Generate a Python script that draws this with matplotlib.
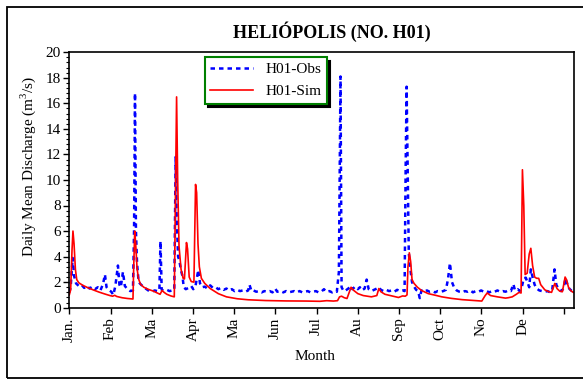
import numpy as np
import matplotlib
matplotlib.use('Agg')
import matplotlib.pyplot as plt
from matplotlib.patches import Rectangle
from matplotlib.ticker import AutoMinorLocator

plt.rcParams['font.family'] = 'Liberation Serif'
plt.rcParams['mathtext.fontset'] = 'custom'
plt.rcParams['mathtext.rm'] = 'Liberation Serif'

month_labels = ['Jan.', 'Feb', 'Ma', 'Apr', 'Ma', 'Jun', 'Jul', 'Au', 'Sep', 'Oct', 'No', 'De', '']

# simulated daily discharge (day of year, m3/s)
sim_day = [0, 1, 2, 2.7, 3.5, 4.5, 5.5, 7, 10, 14, 18, 22, 26, 30, 32, 33.5, 35, 39, 43, 47,
           47.5, 48.3, 49, 50, 51, 52.5, 55, 58, 62, 65, 67, 68.5, 70, 72, 75, 77.5,
           78.2, 79.2, 80, 81, 82.5, 84, 85, 86.5, 87.3, 88.5, 90, 92, 93.2, 94, 95, 96,
           97.5, 100, 104, 110, 116, 124, 132, 145, 160, 175, 185, 190, 195, 198, 199.5,
           201, 203, 205, 208, 210, 213, 217, 220, 223, 225, 227, 228.5, 230, 233, 237,
           240, 243, 246, 248, 249.3, 250, 251, 252, 253, 254.5, 257, 260, 265, 270, 275,
           282, 290, 300, 304.5, 307, 308.5, 311, 316, 322, 324, 327, 330, 332, 333.5,
           334.5, 335.5, 336.5, 338, 339.5, 340.7, 342, 343.5, 345, 346.5, 348, 351, 354,
           356, 358.4, 360, 362, 364, 366, 367, 368.5, 370, 372, 373]
sim_val = [1.0, 1.4, 4.5, 6.0, 5.0, 3.0, 2.2, 1.95, 1.75, 1.55, 1.38, 1.22, 1.08, 0.95, 0.9, 0.97, 0.88, 0.78, 0.72, 0.68,
           3.0, 6.0, 5.0, 3.1, 2.3, 1.85, 1.6, 1.45, 1.3, 1.15, 1.05, 1.35, 1.2, 1.05, 0.92, 0.85,
           7.0, 16.5, 10.0, 4.8, 3.0, 2.3, 2.25, 5.1, 4.6, 2.4, 2.05, 2.0, 9.65, 9.0, 5.0, 3.2,
           2.3, 1.9, 1.5, 1.1, 0.85, 0.7, 0.62, 0.56, 0.53, 0.52, 0.5, 0.55, 0.52, 0.55, 0.85,
           0.9, 0.78, 0.72, 1.6, 1.35, 1.1, 0.95, 0.9, 0.85, 0.9, 0.95, 1.5, 1.25, 1.05, 0.95,
           0.88, 0.8, 0.92, 0.9, 1.0, 3.2, 4.3, 3.6, 2.2, 1.9, 1.6, 1.35, 1.1, 0.98, 0.85,
           0.73, 0.63, 0.55, 0.52, 0.95, 1.15, 0.95, 0.85, 0.75, 0.78, 0.85, 1.05, 1.2, 1.15,
           10.8, 8.0, 2.6, 2.7, 4.2, 4.65, 3.3, 2.4, 2.3, 2.3, 1.8, 1.4, 1.25,
           1.2, 1.9, 1.5, 1.3, 1.25, 2.4, 2.2, 1.6, 1.35, 1.2, 1.2]

# observed daily discharge (day of year, m3/s)
obs_day = [0, 1, 2.5, 3.5, 5, 7, 9, 11, 13, 15, 17, 19, 21, 23, 25, 26.3, 27.5, 29, 31, 32.5,
           34, 35.9, 37, 38, 39.6, 41, 43, 45, 47, 47.8, 48.5, 49.2, 50, 51.2, 53, 55, 57,
           59, 61, 63, 65, 66.5, 67.3, 68.2, 70, 72, 74, 76, 77.5, 78.5, 79.3, 80.3, 81.2,
           82.5, 83.5, 84.5, 86, 88, 90, 91.5, 93, 94, 95.2, 96.5, 98, 100, 102, 104, 106,
           108, 110, 112, 114, 116, 118, 120, 122, 124, 126, 128, 130, 132, 133, 134.5, 136,
           138, 140, 142, 144, 146, 148, 150, 152, 153.5, 156, 158, 160, 162, 164, 166, 168,
           170, 172, 174, 176, 178, 180, 182, 184, 186, 188, 189.5, 192, 194, 196, 197.5,
           199, 200.2, 201, 202.5, 204, 206, 207.5, 209, 211, 213, 214.5, 216, 218, 219.5,
           221, 223, 225, 227, 228.5, 230, 232, 234, 236, 238, 240, 242, 244, 246, 247.5,
           248.3, 249, 249.8, 250.6, 251.8, 253, 254.5, 256, 257.5, 258.7, 260, 262, 264,
           266, 268, 270, 272, 274, 276, 278, 279.5, 281, 282.5, 284, 286, 288, 290, 292,
           294, 296, 298, 300, 302, 304, 306, 308, 310, 312, 314, 316, 318, 320, 322, 324,
           326, 327.8, 329, 331, 332.5, 334, 335.5, 337, 338.5, 339.5, 340.7, 342, 343.5,
           345, 347, 349, 351, 353, 355, 356.5, 358.2, 359.5, 361, 363, 365, 366.2, 367.5,
           369, 371, 373]
obs_val = [1.2, 1.6, 3.9, 2.5, 1.9, 1.7, 1.8, 1.55, 1.7, 1.5, 1.65, 1.45, 1.6, 1.35, 1.9, 2.6, 1.6, 1.4, 1.25, 1.0,
           1.7, 3.3, 1.8, 1.6, 2.8, 1.7, 1.45, 1.3, 1.35, 6.0, 16.8, 6.0, 3.5, 2.0, 1.8, 1.6, 1.45,
           1.3, 1.25, 1.35, 1.3, 1.35, 5.2, 1.4, 1.35, 1.4, 1.3, 1.35, 1.4, 11.8, 7.0, 4.0, 3.7,
           2.9, 2.5, 1.6, 1.45, 1.55, 1.7, 1.45, 1.6, 2.2, 2.95, 1.9, 1.6, 1.65, 1.5, 1.75, 1.55,
           1.6, 1.45, 1.55, 1.4, 1.5, 1.35, 1.45, 1.3, 1.4, 1.3, 1.35, 1.25, 1.35, 1.8, 1.3, 1.35,
           1.25, 1.3, 1.2, 1.3, 1.25, 1.3, 1.2, 1.5, 1.25, 1.3, 1.2, 1.3, 1.2, 1.25, 1.3, 1.2,
           1.3, 1.2, 1.25, 1.3, 1.2, 1.25, 1.3, 1.2, 1.25, 1.45, 1.25, 1.3, 1.2, 1.3, 1.25,
           2.8, 18.1, 1.6, 1.3, 1.35, 1.5, 1.7, 1.45, 1.65, 1.45, 1.6, 1.35, 1.5, 2.2,
           1.45, 1.3, 1.4, 1.5, 1.6, 1.4, 1.3, 1.4, 1.3, 1.35, 1.25, 1.4, 1.3, 1.35, 1.3,
           11.0, 17.3, 11.0, 4.3, 3.0, 2.0, 1.65, 1.4, 1.3, 0.75, 1.35, 1.25, 1.35,
           1.25, 1.3, 1.2, 1.3, 1.25, 1.3, 1.4, 2.2, 3.5, 2.0, 1.6, 1.35, 1.25, 1.2, 1.3,
           1.25, 1.35, 1.2, 1.3, 1.25, 1.35, 1.25, 1.3, 1.2, 1.3, 1.25, 1.35, 1.25, 1.3, 1.25, 1.35,
           1.3, 1.85, 1.35, 1.45, 1.3, 1.6, 2.3, 2.35, 1.9, 1.6, 3.0, 2.4, 1.8,
           1.5, 1.35, 1.3, 1.25, 1.3, 1.2, 1.4, 3.0, 1.8, 1.5, 1.3, 1.5, 2.3, 1.9,
           1.5, 1.3, 1.25]

W, H = 583, 379
fig = plt.figure(figsize=(W / 100, H / 100), dpi=100)

# outer frame (right side runs off the page)
fig.patches.append(Rectangle((6.7 / W, 1.3 / H), 1.2, (H - 8.6) / H, transform=fig.transFigure,
                             fill=False, edgecolor='black', linewidth=1.3))

ax = fig.add_axes([69.3 / W, (H - 307.7) / H, (573.5 - 69.3) / W, (307.7 - 52.2) / H])

ax.plot(obs_day, obs_val, color='#0000ff', linestyle=(0, (1.8, 1.6)), linewidth=1.8, label='H01-Obs')
ax.plot(sim_day, sim_val, color='#ff0000', linewidth=1.2, label='H01-Sim')

ax.set_xlim(0, 372.2)
ax.set_ylim(0, 20)
ax.set_xticks(np.arange(13) * 365 / 12)
ax.set_xticklabels(month_labels, rotation=90, fontsize=11)
ax.set_yticks(np.arange(0, 21, 2))
ax.yaxis.set_minor_locator(AutoMinorLocator(5))
ax.tick_params(axis='y', labelsize=11, length=4, width=1, pad=2)
ax.tick_params(axis='y', which='minor', length=2, width=0.8)
ax.tick_params(axis='x', length=4, width=1, pad=3)
for sp in ax.spines.values():
    sp.set_linewidth(1.2)

leg = ax.legend(loc='upper left', bbox_to_anchor=(0.269, 0.981), borderaxespad=0,
                fontsize=11, handlelength=2.8, fancybox=False, framealpha=1,
                edgecolor='#008000', borderpad=0.35, labelspacing=0.55,
                shadow={'color': 'black', 'alpha': 1, 'ox': 2.5, 'oy': -2.5})
leg.get_frame().set_linewidth(1.5)

fig.text(332 / W, 1 - 32 / H, 'HELIÓPOLIS (NO. H01)', ha='center', va='center',
         fontsize=13, fontweight='bold')
fig.text(28 / W, 1 - 166 / H, 'Daily Mean Discharge (m$^3$/s)', rotation=90,
         ha='center', va='center', fontsize=11)
fig.text(315 / W, 1 - 356 / H, 'Month', ha='center', va='center', fontsize=11)

fig.savefig('out.png', dpi=100)
